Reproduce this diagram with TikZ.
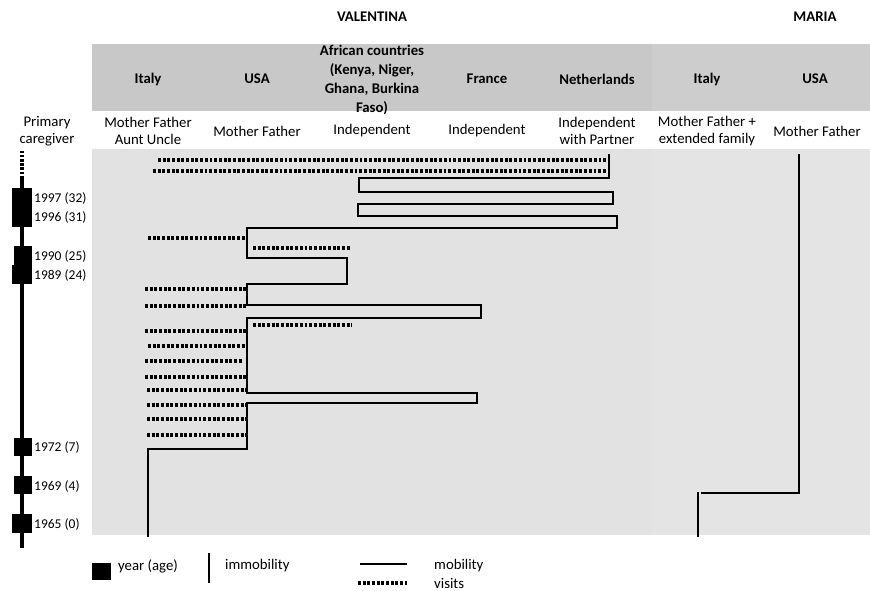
\documentclass[tikz,border=0pt]{standalone}
\usepackage{fontspec}
\setmainfont{Carlito}
\usetikzlibrary{positioning}
\definecolor{headgray}{HTML}{C8C8C8}
\definecolor{headgraym}{HTML}{CDCDCD}
\definecolor{bodygray}{HTML}{E2E2E2}
\definecolor{bodygraym}{HTML}{E4E4E4}

\begin{document}
\begin{tikzpicture}[x=0.03cm, y=-0.03cm,
	txt/.style={font=\fontsize{12.6}{15}\selectfont, align=center, inner sep=0pt},
	hdr/.style={font=\fontsize{12.6}{16}\selectfont\bfseries, align=center, inner sep=0pt},
	yr/.style={font=\fontsize{11.5}{13}\selectfont, anchor=west, inner sep=0pt},
	move/.style={line width=2.4pt, line join=miter},
	visit/.style={line width=2.6pt, dash pattern=on 2.5pt off 1.5pt},
	]
	\useasboundingbox (0,0) rectangle (870,591);
	%Background
	\fill[headgray]  (92,44)   rectangle (652,111);
	\fill[headgraym] (652,44)  rectangle (870,111);
	\fill[bodygray]  (92,149)  rectangle (652,535);
	\fill[bodygraym] (652,149) rectangle (870,535);
	
	%Nodes
	\node[hdr] (valentina) at (372,17) {VALENTINA};
	\node[hdr] (maria)     at (815,17) {MARIA};
	
	\node[hdr] (v-italy)   at (148,79) {Italy};
	\node[hdr] (v-usa)     at (257,79) {USA};
	\node[hdr] (v-africa)  at (372,80) {African countries\\(Kenya, Niger,\\Ghana, Burkina\\Faso)};
	\node[hdr] (v-france)  at (487,79) {France};
	\node[hdr] (v-nl)      at (597,79) {Netherlands};
	\node[hdr] (m-italy)   at (707,79) {Italy};
	\node[hdr] (m-usa)     at (815,79) {USA};
	
	\node[txt] (care)      at (47,131)  {Primary\\caregiver};
	\node[txt] (c-italy)   at (148,131) {Mother Father\\Aunt Uncle};
	\node[txt] (c-usa)     at (257,131) {Mother Father};
	\node[txt] (c-africa)  at (372,131) {Independent};
	\node[txt] (c-france)  at (487,131) {Independent};
	\node[txt] (c-nl)      at (597,131) {Independent\\with Partner};
	\node[txt] (cm-italy)  at (707,131) {Mother Father +\\extended family};
	\node[txt] (cm-usa)    at (817,131) {Mother Father};
	
	%Timeline
	\draw[line width=3pt, dash pattern=on 2pt off 1.5pt] (22,151) -- (22,176);
	\draw[line width=3pt] (22,176) -- (22,548);
	\fill (12,188) rectangle (32,227);
	\fill (14,246) rectangle (32,265);
	\fill (12,265) rectangle (32,284);
	\fill (14,438) rectangle (32,456);
	\fill (14,476) rectangle (32,494);
	\fill (12,514) rectangle (32,533);
	\node[yr] (y1997) at (34,199) {1997 (32)};
	\node[yr] (y1996) at (34,218) {1996 (31)};
	\node[yr] (y1990) at (34,257) {1990 (25)};
	\node[yr] (y1989) at (34,276) {1989 (24)};
	\node[yr] (y1972) at (34,448) {1972 (7)};
	\node[yr] (y1969) at (34,487) {1969 (4)};
	\node[yr] (y1965) at (34,525) {1965 (0)};
	
	%Lines
	\draw[move] (148,537) -- (148,449) -- (247,449) -- (247,403) -- (477,403) -- (477,393)
		-- (247,393) -- (247,318) -- (481,318) -- (481,305) -- (247,305) -- (247,284)
		-- (347,284) -- (347,258) -- (247,258) -- (247,228) -- (617,228) -- (617,216)
		-- (358,216) -- (358,204) -- (613,204) -- (613,192) -- (359,192) -- (359,178)
		-- (609,178) -- (609,154);
	\draw[move] (698,537) -- (698,492);
	\draw[move] (701,493) -- (799,493) -- (799,154);
	
	\draw[visit] (158,160) -- (609,160);
	\draw[visit] (153,171) -- (607,171);
	\draw[visit] (253,248) -- (351,248);
	\draw[visit] (253,325) -- (352,325);
	\foreach \y/\x/\e in {238/148/247, 289/145/247, 306/145/247, 331/145/247, 346/148/247,
		361/145/243, 377/145/247, 390/147/247, 405/147/247, 419/147/247, 435/147/247}
		\draw[visit] (\x,\y) -- (\e,\y);
	
	%Legend
	\fill (92,563) rectangle (111,580);
	\node[txt, anchor=west] (key-year) at (118,566) {year (age)};
	\draw[line width=2.4pt] (209,553) -- (209,583);
	\node[txt, anchor=west] (key-immob) at (225,566) {immobility};
	\draw[move] (360,564) -- (407,564);
	\node[txt, anchor=west] (key-mob) at (434,566) {mobility};
	\draw[visit] (358,583) -- (407,583);
	\node[txt, anchor=west] (key-visit) at (434,583) {visits};
\end{tikzpicture}
\end{document}
